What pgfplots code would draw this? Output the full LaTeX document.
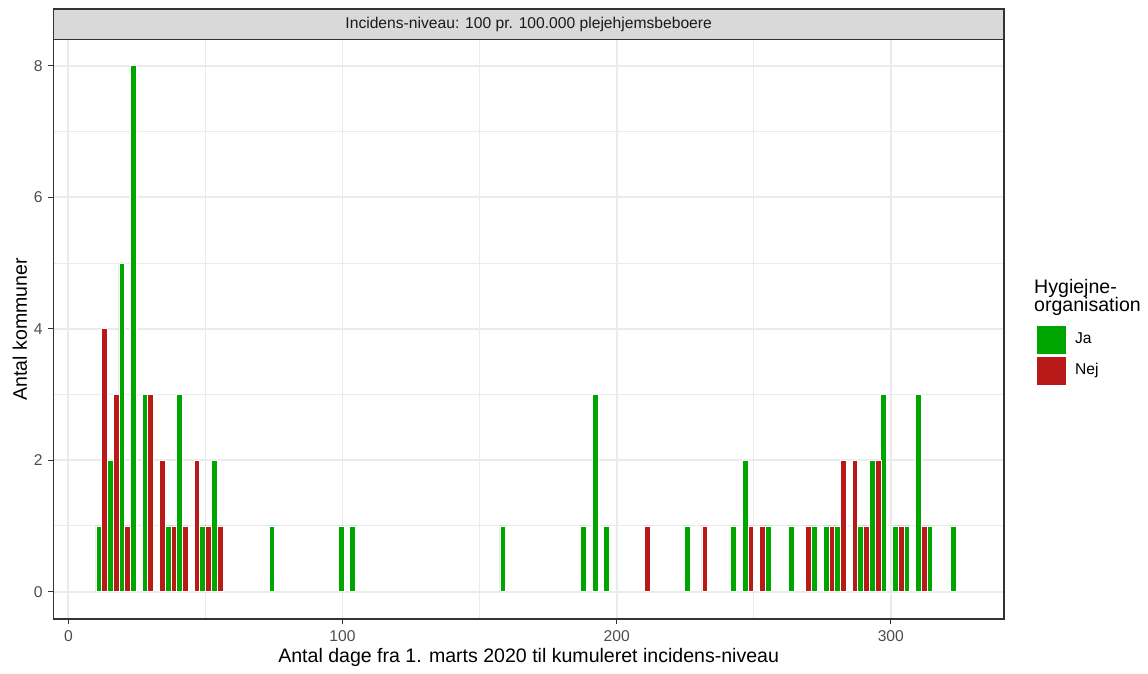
\documentclass[border=0pt]{standalone}
\usepackage{fontspec}
\setmainfont{Liberation Sans}
\usepackage{pgfplots}
\pgfplotsset{compat=1.18}
\definecolor{jagreen}{RGB}{0,166,0}
\definecolor{nejred}{RGB}{184,26,26}
\definecolor{grid92}{RGB}{235,235,235}
\definecolor{g20}{RGB}{51,51,51}
\definecolor{g30}{RGB}{77,77,77}
\definecolor{g85}{RGB}{217,217,217}
\definecolor{g10}{RGB}{26,26,26}
\begin{document}
\begin{tikzpicture}
\begin{axis}[name=ax, at={(0,0)}, anchor=south west,
  scale only axis, width=534.8pt, height=326pt,
  xmin=-5.5, xmax=341.3, ymin=-0.415, ymax=8.4,
  xtick={0,100,200,300}, minor xtick={50,150,250},
  ytick={0,2,4,6,8}, minor ytick={1,3,5,7},
  grid=both,
  major grid style={grid92, line width=1.07pt},
  minor grid style={grid92, line width=0.53pt},
  tick align=outside,
  major tick length=3pt, minor tick length=0pt,
  xtick pos=left, ytick pos=left,
  tick style={g20, line width=0.53pt},
  axis line style={g20, line width=0.8pt},
  /pgf/number format/assume math mode=true,
  ticklabel style={font=\fontsize{8.8}{10}\selectfont, text=g30, inner sep=0pt},
  xticklabel style={anchor=north, yshift=-3.5pt},
  yticklabel style={anchor=east, xshift=-2.8pt},
  xlabel={Antal dage fra 1. marts 2020 til kumuleret incidens-niveau},
  ylabel={Antal kommuner},
  label style={font=\fontsize{11}{13}\selectfont, inner sep=0pt},
  xlabel style={at={(axis description cs:0.5,-0.0759)}, anchor=base},
  ylabel style={at={(axis description cs:-0.0277,0.5)}, anchor=base, rotate=0},
  legend style={at={(axis description cs:1.0344,0.5061)}, anchor=north west,
    draw=none, fill=none, inner sep=0pt, row sep=2pt,
    font=\fontsize{8.8}{10.5}\selectfont,
    nodes={inner sep=0pt},
    /tikz/every odd column/.append style={column sep=5.5pt}},
  legend cell align=left,
]
\addplot[ybar, bar width=2.106, bar shift=0pt, fill=jagreen, draw=white, line width=0.4pt, forget plot] coordinates {
(11.07,1) (15.28,2) (19.49,5) (23.70,8) (27.91,3) (36.34,1) (40.55,3) (48.97,1) (53.18,2)
(74.24,1) (99.50,1) (103.71,1) (158.46,1) (187.93,1) (192.14,3) (196.35,1)
(225.83,1) (242.68,1) (246.89,2) (255.31,1) (263.73,1) (272.15,1) (276.36,1) (280.57,1)
(288.99,1) (293.20,2) (297.42,3) (301.63,1) (305.84,1) (310.05,3) (314.26,1) (322.68,1)
};
\addplot[ybar, bar width=2.106, bar shift=0pt, fill=nejred, draw=white, line width=0.4pt, forget plot] coordinates {
(13.18,4) (17.39,3) (21.60,1) (30.02,3) (34.24,2) (38.45,1) (42.66,1) (46.87,2) (51.08,1) (55.29,1)
(211.10,1) (232.15,1) (248.99,1) (253.21,1) (270.05,1) (278.47,1) (282.68,2) (286.90,2)
(291.11,1) (295.32,2) (303.74,1) (312.16,1)
};
\addlegendimage{legend image code/.code={\fill[jagreen] (0pt,-7.5pt) rectangle (15.5pt,7.5pt);}}
\addlegendentry{Ja}
\addlegendimage{legend image code/.code={\fill[nejred] (0pt,-7.5pt) rectangle (15.5pt,7.5pt);}}
\addlegendentry{Nej}
\end{axis}
\draw[fill=g85, draw=g20, line width=0.8pt] (ax.north west) rectangle ([yshift=17.2pt]ax.north east);
\node[font=\fontsize{8.8}{10}\selectfont, text=g10, inner sep=0pt] at ([yshift=8.6pt]ax.north) {Incidens-niveau: 100 pr. 100.000 plejehjemsbeboere};
\node[font=\fontsize{11}{13}\selectfont, anchor=base west, inner sep=0pt] at ([xshift=16.8pt, yshift=-142.8pt]ax.north east) {Hygiejne-};
\node[font=\fontsize{11}{13}\selectfont, anchor=base west, inner sep=0pt] at ([xshift=16.8pt, yshift=-153.2pt]ax.north east) {organisation};
\pgfresetboundingbox
\useasboundingbox ([shift={(-30pt,-30.4pt)}]ax.south west) rectangle ([shift={(81pt,22.2pt)}]ax.north east);
\end{tikzpicture}
\end{document}
